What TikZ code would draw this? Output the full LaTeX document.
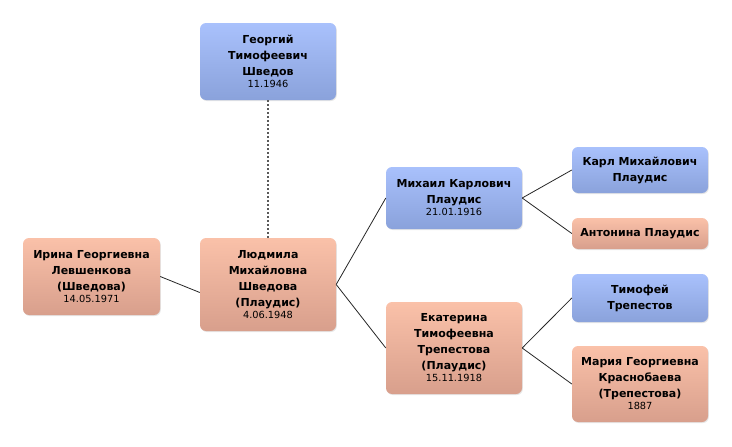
\documentclass[tikz,border=0pt]{standalone}
\usepackage{fontspec}
\setmainfont{DejaVu Sans}
\usetikzlibrary{shadows}
\definecolor{btop}{HTML}{A9C1FC}
\definecolor{bbot}{HTML}{8AA2DB}
\definecolor{stop}{HTML}{FAC1A9}
\definecolor{sbot}{HTML}{D89F8C}
\tikzset{
  person/.style={rectangle, rounded corners=6pt, minimum width=136pt, inner sep=2pt, align=center,
    font=\fontsize{11}{16}\selectfont\bfseries,
    drop shadow={opacity=0.2, shadow xshift=0.8pt, shadow yshift=-1pt}},
  male/.style={person, top color=btop, bottom color=bbot},
  female/.style={person, top color=stop, bottom color=sbot},
  link/.style={draw=black!85, line width=0.8pt},
  dashlink/.style={draw=black!65, line width=1.1pt, dash pattern=on 2pt off 2pt}
}
\newcommand{\dt}[1]{\\[-4pt]{\mdseries\fontsize{9.8}{11}\selectfont #1}}
\begin{document}
\begin{tikzpicture}[x=1pt,y=-1pt]
\useasboundingbox (0,0) rectangle (732,447);
\node[male, minimum height=77pt] (geo) at (268,61.5) {Георгий\\Тимофеевич\\Шведов\dt{11.1946}};
\node[female, minimum height=77pt, minimum width=137pt] (iri) at (91.5,276.5) {Ирина Георгиевна\\Левшенкова\\(Шведова)\dt{14.05.1971}};
\node[female, minimum height=93pt] (lyu) at (268,284.5) {Людмила\\Михайловна\\Шведова\\(Плаудис)\dt{4.06.1948}};
\node[male, minimum height=62pt] (mik) at (454,198) {Михаил Карлович\\Плаудис\dt{21.01.1916}};
\node[male, minimum height=46pt] (kar) at (640,170) {Карл Михайлович\\Плаудис};
\node[female, minimum height=31pt] (ant) at (640,233.5) {Антонина Плаудис};
\node[female, minimum height=92pt] (eka) at (454,348) {Екатерина\\Тимофеевна\\Трепестова\\(Плаудис)\dt{15.11.1918}};
\node[male, minimum height=48pt] (tim) at (640,298) {Тимофей\\Трепестов};
\node[female, minimum height=76pt] (mar) at (640,384) {Мария Георгиевна\\Краснобаева\\(Трепестова)\dt{1887}};
\draw[dashlink] (geo.south) -- (lyu.north);
\draw[link] (iri.east) -- ([yshift=-8pt]lyu.west);
\draw[link] (lyu.east) -- (mik.west);
\draw[link] (lyu.east) -- (eka.west);
\draw[link] (mik.east) -- (kar.west);
\draw[link] (mik.east) -- (ant.west);
\draw[link] (eka.east) -- (tim.west);
\draw[link] (eka.east) -- (mar.west);
\end{tikzpicture}
\end{document}
